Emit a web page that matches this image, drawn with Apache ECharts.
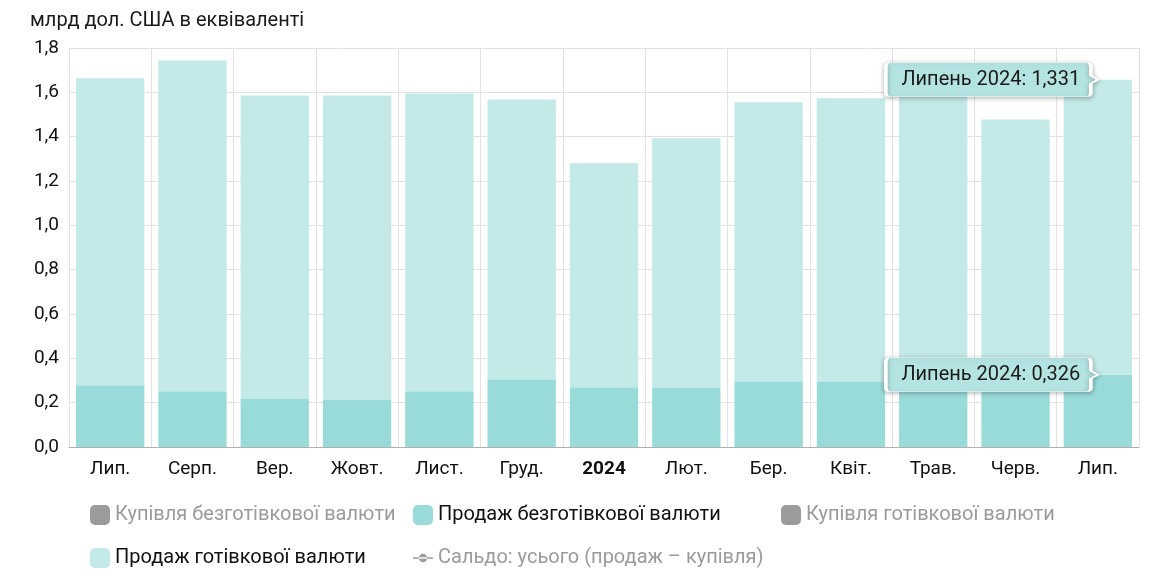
<!DOCTYPE html>
<html>
<head>
<meta charset="utf-8">
<script src="https://cdn.jsdelivr.net/npm/echarts@6/dist/echarts.min.js"></script>
<style>
  html, body { margin: 0; padding: 0; background: #fff; }
  #chart { width: 1154px; height: 579px; }
</style>
</head>
<body>
<div id="chart"></div>
<script>
const categories = ["Лип.", "Серп.", "Вер.", "Жовт.", "Лист.", "Груд.", "2024", "Лют.", "Бер.", "Квіт.", "Трав.", "Черв.", "Лип."];
// продаж безготівкової валюти
const cashlessSale = [0.279, 0.252, 0.216, 0.212, 0.252, 0.306, 0.270, 0.266, 0.297, 0.293, 0.300, 0.300, 0.326];
// продаж готівкової валюти
const cashSale = [1.384, 1.492, 1.370, 1.374, 1.343, 1.262, 1.010, 1.127, 1.258, 1.280, 1.320, 1.178, 1.331];
// приховані серії (на малюнку вимкнені)
const cashlessBuy = [];
const cashBuy = [];
const balance = [];
const yTicks = [0, 0.2, 0.4, 0.6, 0.8, 1.0, 1.2, 1.4, 1.6, 1.8];

const lastIdx = categories.length - 1;
const lastLabel = "Липень 2024";
const fmt = (v, d) => v.toFixed(d).replace(".", ",");

const font = "Roboto";
const calloutPath = "path://M4,0 H201 Q205,0 205,4 V13 L212,17 L205,21 V30 Q205,34 201,34 H4 Q0,34 0,30 V4 Q0,0 4,0 Z";
const lineIcon = "path://M0,9 H24 V11 H0 Z M7,10 A5,5 0 1 0 17,10 A5,5 0 1 0 7,10 Z";

function callout(yValue, shown) {
  return {
    symbol: calloutPath,
    symbolSize: [212, 34],
    symbolOffset: [-106, 0],
    symbolKeepAspect: false,
    silent: true,
    itemStyle: {
      color: "#b4e4e2",
      borderColor: "#ffffff",
      borderWidth: 1.5,
      shadowBlur: 5,
      shadowColor: "rgba(0,0,0,0.3)",
      shadowOffsetY: 1,
    },
    label: {
      show: true,
      position: "inside",
      offset: [-1, 0],
      formatter: lastLabel + ": " + fmt(shown, 3),
      color: "#1a1a1a",
      fontFamily: font,
      fontSize: 20,
    },
    data: [{ coord: [lastIdx, yValue] }],
  };
}

const legendText = { fontFamily: font, fontSize: 20, color: "#111" };
const legendBase = {
  orient: "vertical",
  top: 500,
  itemWidth: 20,
  itemHeight: 20,
  itemGap: 23,
  inactiveColor: "#9b9b9b",
  inactiveBorderColor: "#9b9b9b",
  textStyle: legendText,
  selected: {
    "Купівля безготівкової валюти": false,
    "Купівля готівкової валюти": false,
    "Сальдо: усього (продаж – купівля)": false,
  },
};

const option = {
  animation: false,
  title: {
    text: "млрд дол. США в еквіваленті",
    left: 25,
    top: 6,
    textStyle: { fontFamily: font, fontSize: 20, fontWeight: "normal", color: "#1a1a1a" },
  },
  grid: { left: 69, right: 15, top: 48, bottom: 132 },
  legend: [
    Object.assign({}, legendBase, {
      left: 85,
      data: [
        { name: "Купівля безготівкової валюти", icon: "roundRect" },
        { name: "Продаж готівкової валюти", icon: "roundRect" },
      ],
    }),
    Object.assign({}, legendBase, {
      left: 408,
      data: [
        { name: "Продаж безготівкової валюти", icon: "roundRect" },
        { name: "Сальдо: усього (продаж – купівля)", icon: lineIcon },
      ],
    }),
    Object.assign({}, legendBase, {
      left: 776,
      data: [{ name: "Купівля готівкової валюти", icon: "roundRect" }],
    }),
  ],
  xAxis: {
    type: "category",
    data: categories,
    axisTick: { show: false },
    axisLine: { lineStyle: { color: "#b0b0b0" } },
    splitLine: { show: true, interval: 0, lineStyle: { color: "#e2e2e2" } },
    axisLabel: {
      interval: 0,
      fontFamily: font,
      fontSize: 19,
      color: "#111",
      margin: 13,
      formatter: (v) => (v === "2024" ? "{b|" + v + "}" : v),
      rich: { b: { fontFamily: font, fontSize: 19, fontWeight: "bold", color: "#111" } },
    },
  },
  yAxis: {
    type: "value",
    min: yTicks[0],
    max: yTicks[yTicks.length - 1],
    interval: 0.2,
    axisLine: { show: false },
    axisTick: { show: false },
    splitLine: { lineStyle: { color: "#e2e2e2" } },
    axisLabel: {
      fontFamily: font,
      fontSize: 19,
      color: "#111",
      margin: 10,
      formatter: (v) => fmt(v, 1),
    },
  },
  series: [
    {
      name: "Купівля безготівкової валюти",
      type: "bar",
      data: cashlessBuy,
      itemStyle: { color: "#9b9b9b" },
    },
    {
      name: "Продаж безготівкової валюти",
      type: "bar",
      stack: "sale",
      barCategoryGap: "17%",
      data: cashlessSale,
      itemStyle: { color: "#98dbd9" },
      markPoint: callout(cashlessSale[lastIdx], cashlessSale[lastIdx]),
    },
    {
      name: "Купівля готівкової валюти",
      type: "bar",
      data: cashBuy,
      itemStyle: { color: "#9b9b9b" },
    },
    {
      name: "Продаж готівкової валюти",
      type: "bar",
      stack: "sale",
      barCategoryGap: "17%",
      data: cashSale,
      itemStyle: { color: "#c3e9e9" },
      markPoint: callout(cashlessSale[lastIdx] + cashSale[lastIdx], cashSale[lastIdx]),
    },
    {
      name: "Сальдо: усього (продаж – купівля)",
      type: "line",
      data: balance,
      symbol: "circle",
      symbolSize: 8,
      itemStyle: { color: "#9b9b9b" },
      lineStyle: { color: "#9b9b9b" },
    },
  ],
};

const chart = echarts.init(document.getElementById("chart"));
chart.setOption(option);
window.onresize = function () {
  chart.resize();
};
</script>
</body>
</html>
